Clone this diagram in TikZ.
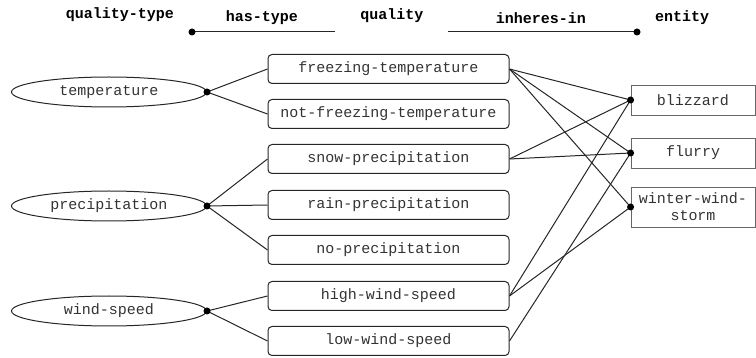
\documentclass[tikz,border=0pt]{standalone}
\usepackage{fontspec}
\newfontfamily\cour{Liberation Mono}
\usetikzlibrary{shapes.geometric}
\begin{document}
\begin{tikzpicture}[x=1pt,y=-1pt,
 every node/.style={font=\cour\fontsize{15}{17}\selectfont, text=black!80},
 qtype/.style={ellipse, draw=black!85, line width=1pt, minimum width=195, minimum height=30, inner sep=0},
 qbox/.style={rectangle, rounded corners=4, draw=black!85, line width=1pt, minimum width=241, minimum height=29, inner sep=0},
 ebox/.style={rectangle, draw=black!60, line width=0.8pt, minimum width=124, minimum height=30, inner sep=0, align=center},
 hdr/.style={font=\cour\bfseries\fontsize{15}{17}\selectfont, text=black},
 link/.style={draw=black!85, line width=1pt},
 dot/.style={circle, fill=black, inner sep=0, minimum size=7}]
\useasboundingbox (0,0) rectangle (756,358);
% headers
\node[hdr] (hqt) at (120,15) {quality-type};
\node[hdr] (hht) at (262,18) {has-type};
\node[hdr] (hq) at (392,16) {quality};
\node[hdr] (hin) at (541,18) {inheres-in};
\node[hdr] (he) at (682,18) {entity};
\coordinate (ht1) at (192,32);
\coordinate (ht2) at (335,32);
\coordinate (in1) at (448,32);
\coordinate (in2) at (637,32);
\draw[link] (ht1) -- (ht2);
\draw[link] (in1) -- (in2);
\node[dot] (dht) at (ht1) {};
\node[dot] (din) at (in2) {};
% quality types
\node[qtype] (temp) at (109,92) {temperature};
\node[qtype] (prec) at (109,206) {precipitation};
\node[qtype] (wind) at (109,311) {wind-speed};
% qualities
\node[qbox] (fz) at (388.5,69) {freezing-temperature};
\node[qbox] (nfz) at (388.5,114) {not-freezing-temperature};
\node[qbox] (snow) at (388.5,159) {snow-precipitation};
\node[qbox] (rain) at (388.5,205) {rain-precipitation};
\node[qbox] (nop) at (388.5,250) {no-precipitation};
\node[qbox] (hw) at (388.5,296) {high-wind-speed};
\node[qbox] (lw) at (388.5,341) {low-wind-speed};
% entities
\node[ebox] (bl) at (693,100) {blizzard};
\node[ebox] (fl) at (693,153) {flurry};
\node[ebox, minimum height=40] (ws) at (693,207) {winter-wind-\\storm};
% has-type links
\draw[link] (temp.east) -- (fz.west);
\draw[link] (temp.east) -- (nfz.west);
\draw[link] (prec.east) -- (snow.west);
\draw[link] (prec.east) -- (rain.west);
\draw[link] (prec.east) -- (nop.west);
\draw[link] (wind.east) -- (hw.west);
\draw[link] (wind.east) -- (lw.west);
% inheres-in links
\draw[link] (fz.east) -- (bl.west);
\draw[link] (fz.east) -- (fl.west);
\draw[link] (fz.east) -- (ws.west);
\draw[link] (snow.east) -- (bl.west);
\draw[link] (snow.east) -- (fl.west);
\draw[link] (hw.east) -- (bl.west);
\draw[link] (hw.east) -- (ws.west);
\draw[link] (lw.east) -- (fl.west);
% dots
\node[dot] (d1) at (temp.east) {};
\node[dot] (d2) at (prec.east) {};
\node[dot] (d3) at (wind.east) {};
\node[dot] (d4) at (bl.west) {};
\node[dot] (d5) at (fl.west) {};
\node[dot] (d6) at (ws.west) {};
\end{tikzpicture}
\end{document}
